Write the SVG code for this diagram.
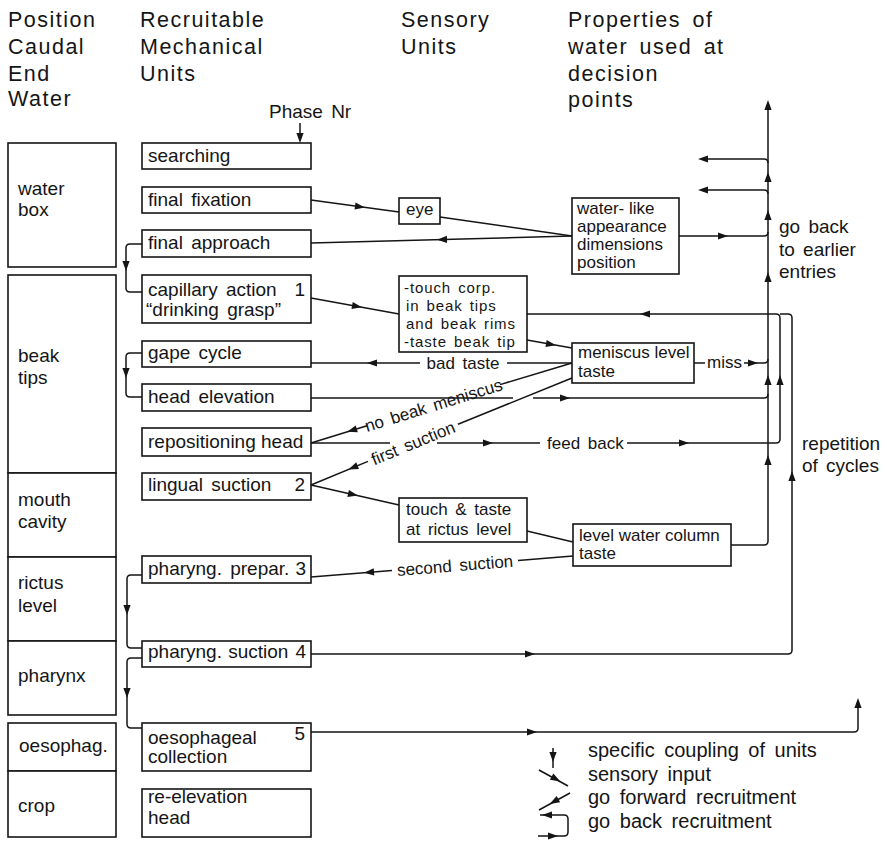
<svg xmlns="http://www.w3.org/2000/svg" xmlns:xlink="http://www.w3.org/1999/xlink" width="887" height="842" viewBox="0 0 887 842">
<style>
text{font-family:"Liberation Sans",Arial,Helvetica,sans-serif;fill:#151515}
.h{font-size:21.5px;letter-spacing:1.5px;word-spacing:4px}
.t{font-size:19px;word-spacing:3px}
.s{font-size:15px;letter-spacing:0.9px;word-spacing:2px}
.c{font-size:17px;word-spacing:3px}
.lg{font-size:20px;word-spacing:4px}
.box{fill:#fff;stroke:#151515;stroke-width:1.6}
.ln{fill:none;stroke:#151515;stroke-width:1.5}
</style>
<defs>
<path id="ah" d="M5,0 L-5,-3.6 L-5,3.6 Z" fill="#151515"/>
</defs>
<rect width="887" height="842" fill="#fff"/>

<g id="headers">
<text class="h" x="8" y="27">Position</text>
<text class="h" x="8" y="54">Caudal</text>
<text class="h" x="8" y="81">End</text>
<text class="h" x="8" y="106">Water</text>
<text class="h" x="140" y="27">Recruitable</text>
<text class="h" x="140" y="54">Mechanical</text>
<text class="h" x="140" y="81">Units</text>
<text class="h" x="401" y="27">Sensory</text>
<text class="h" x="401" y="54">Units</text>
<text class="h" x="568" y="27">Properties of</text>
<text class="h" x="568" y="54">water used at</text>
<text class="h" x="568" y="81">decision</text>
<text class="h" x="568" y="107">points</text>
<text class="t" x="269" y="118">Phase Nr</text>
</g>

<g id="position-column">
<g id="n-waterbox"><rect class="box" x="8" y="143" width="108" height="124"/><text class="t" x="18" y="195">water</text><text class="t" x="18" y="216">box</text></g>
<g id="n-beaktips"><rect class="box" x="8" y="275" width="108" height="198"/><text class="t" x="18" y="362">beak</text><text class="t" x="18" y="384">tips</text></g>
<g id="n-mouth"><rect class="box" x="8" y="473" width="108" height="84"/><text class="t" x="18" y="506">mouth</text><text class="t" x="18" y="528">cavity</text></g>
<g id="n-rictus"><rect class="box" x="8" y="557" width="108" height="84"/><text class="t" x="18" y="589">rictus</text><text class="t" x="18" y="612">level</text></g>
<g id="n-pharynx"><rect class="box" x="8" y="641" width="108" height="74"/><text class="t" x="18" y="682">pharynx</text></g>
<g id="n-oesophag"><rect class="box" x="8" y="723" width="108" height="48"/><text class="t" x="19" y="752">oesophag.</text></g>
<g id="n-crop"><rect class="box" x="8" y="771" width="108" height="66"/><text class="t" x="18" y="812">crop</text></g>
</g>

<g id="mechanical-units">
<g id="n-searching"><rect class="box" x="142" y="143" width="169" height="26"/><text class="t" x="148" y="162">searching</text></g>
<g id="n-finalfixation"><rect class="box" x="142" y="187" width="169" height="26"/><text class="t" x="148" y="206">final fixation</text></g>
<g id="n-finalapproach"><rect class="box" x="142" y="230" width="169" height="27"/><text class="t" x="148" y="249">final approach</text></g>
<g id="n-capillary"><rect class="box" x="142" y="275" width="169" height="48"/><text class="t" x="148" y="296">capillary action</text><text class="t" x="305" y="296" text-anchor="end">1</text><text class="t" x="146" y="316">“drinking grasp”</text></g>
<g id="n-gape"><rect class="box" x="142" y="341" width="169" height="26"/><text class="t" x="148" y="359">gape cycle</text></g>
<g id="n-headelev"><rect class="box" x="142" y="384" width="169" height="27"/><text class="t" x="148" y="403">head elevation</text></g>
<g id="n-reposition"><rect class="box" x="142" y="428" width="169" height="28"/><text class="t" x="148" y="448" style="word-spacing:0">repositioning head</text></g>
<g id="n-lingual"><rect class="box" x="142" y="473" width="169" height="27"/><text class="t" x="148" y="491">lingual suction</text><text class="t" x="305" y="491" text-anchor="end">2</text></g>
<g id="n-prepar"><rect class="box" x="142" y="556" width="169" height="27"/><text class="t" x="148" y="575">pharyng. prepar.</text><text class="t" x="306" y="575" text-anchor="end">3</text></g>
<g id="n-pharsuction"><rect class="box" x="142" y="641" width="169" height="26"/><text class="t" x="148" y="658" style="word-spacing:1px">pharyng. suction</text><text class="t" x="306" y="658" text-anchor="end">4</text></g>
<g id="n-oesocoll"><rect class="box" x="142" y="723" width="169" height="48"/><text class="t" x="148" y="744">oesophageal</text><text class="t" x="148" y="763">collection</text><text class="t" x="305" y="740" text-anchor="end">5</text></g>
<g id="n-reelev"><rect class="box" x="142" y="789" width="169" height="48"/><text class="t" x="148" y="803">re-elevation</text><text class="t" x="148" y="824">head</text></g>
</g>

<g id="sensory-units">
<g id="n-eye"><rect class="box" x="399" y="198" width="41" height="26"/><text class="c" x="406" y="215">eye</text></g>
<g id="n-touchcorp"><rect class="box" x="399" y="276" width="128" height="76"/><text class="s" x="404" y="293">-touch corp.</text><text class="s" x="406" y="311">in beak tips</text><text class="s" x="406" y="329">and beak rims</text><text class="s" x="404" y="347">-taste beak tip</text></g>
<g id="n-touchtaste"><rect class="box" x="399" y="498" width="128" height="44"/><text class="c" x="406" y="515">touch &amp; taste</text><text class="c" x="406" y="535">at rictus level</text></g>
</g>

<g id="properties">
<g id="n-waterlike"><rect class="box" x="572" y="198" width="107" height="76"/><text class="c" x="577" y="214" style="word-spacing:0">water- like</text><text class="c" x="577" y="232">appearance</text><text class="c" x="577" y="250">dimensions</text><text class="c" x="577" y="268">position</text></g>
<g id="n-meniscus"><rect class="box" x="572" y="343" width="122" height="40"/><text class="c" x="578" y="358" style="word-spacing:0">meniscus level</text><text class="c" x="578" y="377">taste</text></g>
<g id="n-levelwater"><rect class="box" x="573" y="524" width="158" height="42"/><text class="c" x="579" y="541" style="word-spacing:0">level water column</text><text class="c" x="579" y="559">taste</text></g>
</g>

<g id="side-labels">
<text class="t" x="779" y="233">go back</text>
<text class="t" x="779" y="256">to earlier</text>
<text class="t" x="779" y="278">entries</text>
<text class="t" x="802" y="450">repetition</text>
<text class="t" x="802" y="472">of cycles</text>
</g>

<g id="connectors">
<line class="ln" x1="300" y1="123" x2="300" y2="138"/>
<use xlink:href="#ah" transform="translate(300,138) rotate(90)"/>

<line class="ln" x1="311" y1="200" x2="399" y2="212"/>
<use xlink:href="#ah" transform="translate(360,206.7) rotate(7.8)"/>
<line class="ln" x1="440" y1="217" x2="572" y2="236"/>
<line class="ln" x1="572" y1="236" x2="311" y2="243"/>
<use xlink:href="#ah" transform="translate(442,239.5) rotate(178.5)"/>

<path class="ln" d="M142,244 L130,244 Q126,244 126,248 L126,288 Q126,292 130,292 L142,292"/>
<use xlink:href="#ah" transform="translate(126,266) rotate(90)"/>

<line class="ln" x1="311" y1="298" x2="399" y2="314"/>
<use xlink:href="#ah" transform="translate(357,306.4) rotate(10.3)"/>
<line class="ln" x1="527" y1="340" x2="572" y2="348"/>
<use xlink:href="#ah" transform="translate(551,344.3) rotate(10)"/>

<line class="ln" x1="572" y1="363" x2="507" y2="363"/>
<line class="ln" x1="420" y1="363" x2="311" y2="363"/>
<use xlink:href="#ah" transform="translate(372,363) rotate(180)"/>
<text class="c" x="463" y="369" text-anchor="middle">bad taste</text>

<path class="ln" d="M142,353 L130,353 Q126,353 126,357 L126,393 Q126,397 130,397 L142,397"/>
<use xlink:href="#ah" transform="translate(126,373) rotate(90)"/>

<line class="ln" x1="311" y1="398" x2="513" y2="398"/>
<path class="ln" d="M533,398 L764,398 Q768,398 768,394"/>
<use xlink:href="#ah" transform="translate(565,398) rotate(0)"/>

<line class="ln" x1="572" y1="363" x2="500" y2="384.6"/>
<line class="ln" x1="367" y1="425.7" x2="311" y2="443"/>
<use xlink:href="#ah" transform="translate(352,430.3) rotate(162.8)"/>
<text class="c" transform="translate(433.5,405.2) rotate(-17.2)" text-anchor="middle" y="6">no beak meniscus</text>

<line class="ln" x1="572" y1="378" x2="458" y2="424.3"/>
<line class="ln" x1="368" y1="461.4" x2="311" y2="485"/>
<use xlink:href="#ah" transform="translate(353,467.6) rotate(157.6)"/>
<text class="c" transform="translate(413,443) rotate(-22.4)" text-anchor="middle" y="6">first suction</text>

<line class="ln" x1="311" y1="443" x2="390" y2="443"/>
<line class="ln" x1="437" y1="443" x2="540" y2="443"/>
<use xlink:href="#ah" transform="translate(488,443) rotate(0)"/>
<text class="c" x="547" y="449">feed back</text>
<path class="ln" d="M627,443 L776,443 Q780,443 780,439 L780,318 Q780,314 776,314 L527,314"/>
<use xlink:href="#ah" transform="translate(684,443) rotate(0)"/>
<use xlink:href="#ah" transform="translate(780,380) rotate(-90)"/>
<use xlink:href="#ah" transform="translate(645,314) rotate(180)"/>

<line class="ln" x1="311" y1="485" x2="399" y2="505"/>
<use xlink:href="#ah" transform="translate(353,494.5) rotate(12.8)"/>
<line class="ln" x1="527" y1="531" x2="573" y2="542"/>

<path class="ln" d="M731,545 L764,545 Q768,545 768,541 L768,104"/>
<use xlink:href="#ah" transform="translate(768,105) rotate(-90)"/>
<use xlink:href="#ah" transform="translate(768,460) rotate(-90)"/>
<use xlink:href="#ah" transform="translate(768,380) rotate(-90)"/>
<use xlink:href="#ah" transform="translate(768,277) rotate(-90)"/>
<use xlink:href="#ah" transform="translate(768,215) rotate(-90)"/>
<use xlink:href="#ah" transform="translate(768,177) rotate(-90)"/>

<path class="ln" d="M679,236 L764,236 Q768,236 768,232"/>
<use xlink:href="#ah" transform="translate(723,236) rotate(0)"/>
<path class="ln" d="M768,163 Q768,159 764,159 L703,159"/>
<use xlink:href="#ah" transform="translate(703,159) rotate(180)"/>
<path class="ln" d="M768,194 Q768,190 764,190 L703,190"/>
<use xlink:href="#ah" transform="translate(703,190) rotate(180)"/>

<line class="ln" x1="694" y1="363" x2="705" y2="363"/>
<text class="c" x="707" y="368">miss</text>
<path class="ln" d="M744,363 L764,363 Q768,363 768,359"/>
<use xlink:href="#ah" transform="translate(753,363) rotate(0)"/>

<line class="ln" x1="573" y1="556" x2="518" y2="560.4"/>
<line class="ln" x1="392" y1="570.5" x2="311" y2="577"/>
<use xlink:href="#ah" transform="translate(369,572.3) rotate(175.4)"/>
<text class="c" transform="translate(455,565.4) rotate(-4.6)" text-anchor="middle" y="6">second suction</text>

<path class="ln" d="M142,575 L131,575 Q127,575 127,579 L127,644 Q127,648 131,648 L142,648"/>
<use xlink:href="#ah" transform="translate(127,610) rotate(90)"/>
<path class="ln" d="M142,658 L131,658 Q127,658 127,662 L127,724 Q127,728 131,728 L142,728"/>
<use xlink:href="#ah" transform="translate(127,693) rotate(90)"/>

<path class="ln" d="M311,654 L788,654 Q792,654 792,650 L792,318 Q792,314 788,314 L780,314"/>
<use xlink:href="#ah" transform="translate(530,654) rotate(0)"/>
<use xlink:href="#ah" transform="translate(792,476) rotate(-90)"/>

<path class="ln" d="M311,732 L854,732 Q858,732 858,728 L858,703"/>
<use xlink:href="#ah" transform="translate(858,703) rotate(-90)"/>
<use xlink:href="#ah" transform="translate(532,732) rotate(0)"/>
</g>

<g id="legend">
<line class="ln" x1="553" y1="748" x2="553" y2="768"/>
<use xlink:href="#ah" transform="translate(553,757) rotate(90)"/>
<line class="ln" x1="539" y1="770" x2="568" y2="786"/>
<use xlink:href="#ah" transform="translate(556,779) rotate(28.9)"/>
<line class="ln" x1="570" y1="793" x2="539" y2="810"/>
<use xlink:href="#ah" transform="translate(554,801.5) rotate(151.3)"/>
<path class="ln" d="M540,815 L564,815 Q568,815 568,819 L568,832 Q568,836 564,836 L538,836"/>
<use xlink:href="#ah" transform="translate(547,815) rotate(180)"/>
<use xlink:href="#ah" transform="translate(553,836) rotate(0)"/>
<text class="lg" x="588" y="757">specific coupling of units</text>
<text class="lg" x="588" y="781">sensory input</text>
<text class="lg" x="588" y="804">go forward recruitment</text>
<text class="lg" x="588" y="828">go back recruitment</text>
</g>
</svg>
